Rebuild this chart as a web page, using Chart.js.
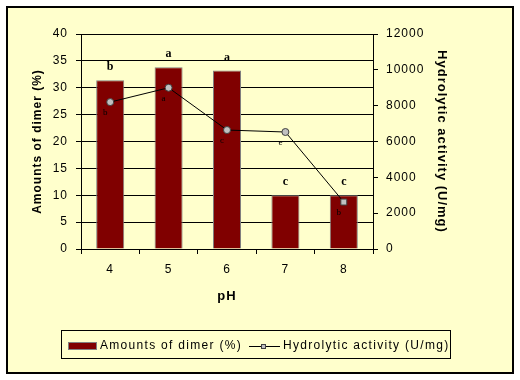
<!DOCTYPE html>
<html>
<head>
<meta charset="utf-8">
<script src="https://cdn.jsdelivr.net/npm/chart.js@4.4.1/dist/chart.umd.min.js"></script>
<style>
  html, body { margin: 0; padding: 0; background: #fff; }
</style>
</head>
<body>
<canvas id="myChart" width="520" height="380"></canvas>
<script>
const ctx = document.getElementById('myChart');

// data
const phLabels = ['4', '5', '6', '7', '8'];
const dimerValues = [31.4, 33.8, 33.2, 10.0, 10.0];
const activityValues = [8200, 9000, 6640, 6530, 2620];
const dimerLetters = ['b', 'a', 'a', 'c', 'c'];
const activityLetters = ['b', 'a', 'c', 'e', 'b'];
const dimerName = 'Amounts of dimer (%)';
const activityName = 'Hydrolytic activity (U/mg)';

Chart.defaults.font.family = '"Liberation Sans", Arial, sans-serif';
Chart.defaults.font.size = 12;
Chart.defaults.color = '#000';

// background, frame, letters and the boxed legend
const pagePlugin = {
  id: 'page',
  beforeDraw(chart) {
    const c = chart.ctx;
    c.save();
    c.fillStyle = '#ffffff';
    c.fillRect(0, 0, 520, 380);
    c.fillStyle = '#ffffcc';
    c.fillRect(6, 6, 508, 368);
    c.strokeStyle = '#000';
    c.lineWidth = 2;
    c.strokeRect(7, 7, 506, 366);
    c.restore();
    c.letterSpacing = '1px';
  },
  afterDatasetsDraw(chart) {
    const c = chart.ctx;
    c.save();
    c.letterSpacing = '0px';
    c.fillStyle = '#000';
    c.textAlign = 'center';
    // letters above bars
    c.font = 'bold 12px "Liberation Serif", serif';
    c.textBaseline = 'bottom';
    chart.getDatasetMeta(0).data.forEach((bar, i) => {
      c.fillText(dimerLetters[i], bar.x, bar.y - 7);
    });
    // letters under line points
    c.font = '9px "Liberation Serif", serif';
    c.textBaseline = 'middle';
    chart.getDatasetMeta(1).data.forEach((pt, i) => {
      c.fillText(activityLetters[i], pt.x - 5, pt.y + 11);
    });
    c.restore();
  },
  afterDraw(chart) {
    const c = chart.ctx;
    c.save();
    c.strokeStyle = '#000';
    c.lineWidth = 1;
    c.strokeRect(61.5, 330.5, 389, 28);
    // bar entry
    c.fillStyle = '#800000';
    c.fillRect(68, 342, 29, 8);
    c.strokeStyle = '#808080';
    c.strokeRect(68.5, 342.5, 28, 7);
    c.fillStyle = '#000';
    c.font = '12px "Liberation Sans", Arial, sans-serif';
    c.letterSpacing = '1.3px';
    c.textBaseline = 'middle';
    c.textAlign = 'left';
    c.fillText(dimerName, 100, 346);
    // line entry
    c.strokeStyle = '#000';
    c.beginPath();
    c.moveTo(249, 346.5);
    c.lineTo(280, 346.5);
    c.stroke();
    c.fillStyle = '#c0c0c0';
    c.fillRect(261, 344, 5, 5);
    c.strokeStyle = '#404040';
    c.strokeRect(261.5, 344.5, 4, 4);
    c.fillStyle = '#000';
    c.fillText(activityName, 283, 346);
    c.restore();
  }
};

new Chart(ctx, {
  type: 'bar',
  data: {
    labels: phLabels,
    datasets: [{
      type: 'bar',
      label: dimerName,
      data: dimerValues,
      backgroundColor: '#800000',
      borderColor: '#808080',
      borderWidth: 1,
      barPercentage: 0.48,
      categoryPercentage: 1,
      yAxisID: 'y',
      order: 2
    }, {
      type: 'line',
      label: activityName,
      data: activityValues,
      borderColor: '#000',
      borderWidth: 1,
      backgroundColor: '#c0c0c0',
      pointBackgroundColor: '#c0c0c0',
      pointBorderColor: '#404040',
      pointBorderWidth: 1,
      pointRadius: [3.5, 3.5, 3.5, 3.5, 4.2],
      pointStyle: ['circle', 'circle', 'circle', 'circle', 'rect'],
      tension: 0,
      yAxisID: 'y1',
      order: 1
    }]
  },
  options: {
    responsive: false,
    animation: false,
    layout: {
      padding: { top: 34, left: 0, right: 0, bottom: 0 }
    },
    scales: {
      x: {
        grid: { drawOnChartArea: false, color: '#000', tickLength: 5, offset: true },
        border: { color: '#000' },
        ticks: { padding: 8 },
        title: {
          display: true,
          text: 'pH',
          font: { size: 13, weight: 'bold' },
          padding: { top: 0, bottom: 76 }
        },
        afterFit(scale) { scale.height = 131; }
      },
      y: {
        position: 'left',
        min: 0,
        max: 40,
        ticks: { stepSize: 5, padding: 8 },
        grid: { color: '#000', tickLength: 5 },
        border: { color: '#000' },
        title: {
          display: true,
          text: dimerName,
          font: { size: 12, weight: 'bold' },
          padding: { top: 30, bottom: 0 }
        },
        afterFit(scale) { scale.width = 81; }
      },
      y1: {
        position: 'right',
        min: 0,
        max: 12000,
        ticks: { stepSize: 2000, padding: 8, callback: (v) => String(v) },
        grid: { drawOnChartArea: false, color: '#000', tickLength: 5 },
        border: { color: '#000' },
        title: {
          display: true,
          text: activityName,
          font: { size: 13, weight: 'bold' },
          padding: { top: 71, bottom: 0 }
        },
        afterFit(scale) { scale.width = 147; }
      }
    },
    plugins: {
      legend: { display: false },
      tooltip: { enabled: false }
    }
  },
  plugins: [pagePlugin]
});
</script>
</body>
</html>
